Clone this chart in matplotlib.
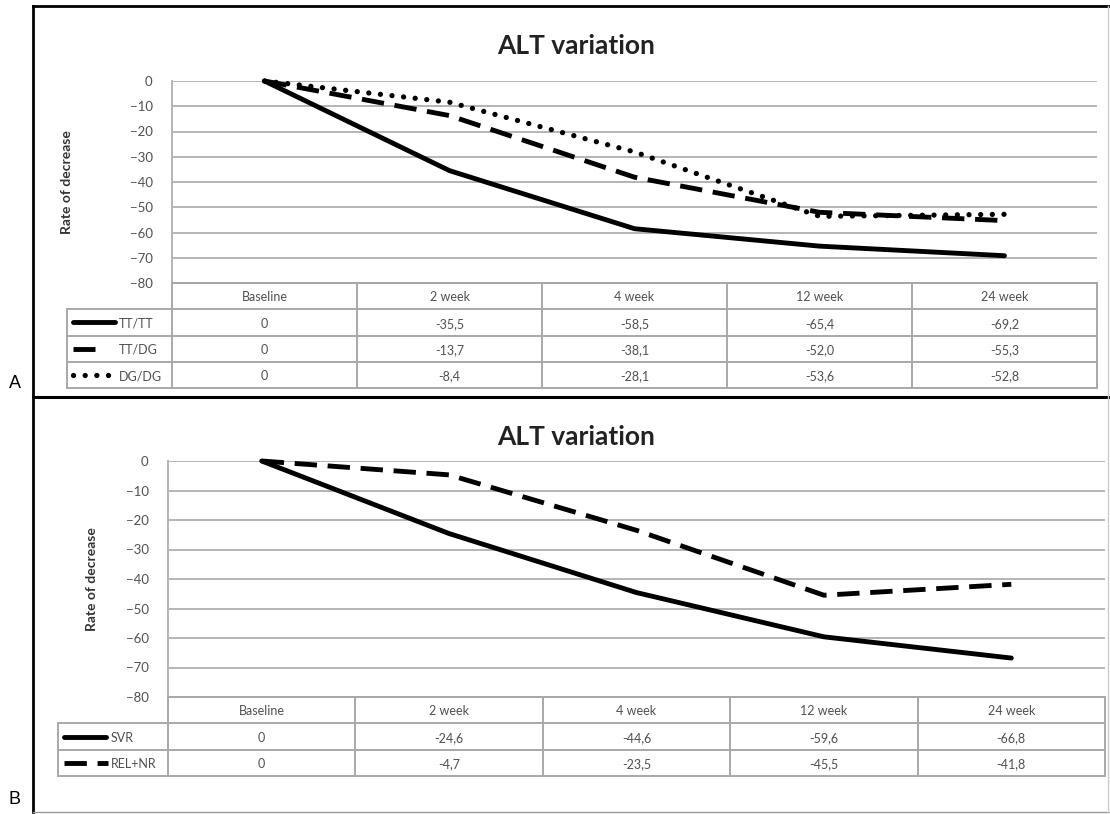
import numpy as np
import matplotlib
matplotlib.use('Agg')
import matplotlib.pyplot as plt
from matplotlib.lines import Line2D

plt.rcParams['font.family'] = ['Lato', 'DejaVu Sans']

W, H = 1110, 814

# data
weeks = ['Baseline', '2 week', '4 week', '12 week', '24 week']
yticks = [0, -10, -20, -30, -40, -50, -60, -70, -80]

names_a = ['TT/TT', 'TT/DG', 'DG/DG']
tt_tt = [0, -35.5, -58.5, -65.4, -69.2]
tt_dg = [0, -13.7, -38.1, -52.0, -55.3]
dg_dg = [0, -8.4, -28.1, -53.6, -52.8]

names_b = ['SVR', 'REL+NR']
svr = [0, -24.6, -44.6, -59.6, -66.8]
rel_nr = [0, -4.7, -23.5, -45.5, -41.8]

solid = dict(ls='-', lw=3.5, solid_capstyle='round')
dashed = dict(ls=(0, (4.6, 2.2)), lw=3.5, dash_capstyle='butt')
dotted = dict(ls=(0, (0.01, 2.2)), lw=3.8, dash_capstyle='round')

grid_c = '#b4b4b4'
tab_c = '#a8a8a8'
txt_c = '#505050'


def box(x0, y0, x1, y1):
    return [x0 / W, 1 - y1 / H, (x1 - x0) / W, (y1 - y0) / H]


def fmt(v):
    return '0' if v == 0 else ('%.1f' % v).replace('.', ',')


fig = plt.figure(figsize=(W / 100, H / 100), dpi=100)


def panel(plot_px, tab_left, tab_bottom, title_y, label_x, series, names, styles, keylen, key_text_x):
    x0, y0, x1, y1 = plot_px
    ax = fig.add_axes(box(x0, y0, x1, y1))
    xs = np.arange(len(weeks))
    for vals, st in zip(series, styles):
        ax.plot(xs, vals, color='black', clip_on=False, zorder=3, **st)
    ax.set_xlim(-0.5, len(weeks) - 0.5)
    ax.set_ylim(-80, 0)
    ax.set_yticks(yticks)
    ax.set_xticks([])
    ax.yaxis.grid(True, color=grid_c, lw=1.4)
    ax.set_axisbelow(True)
    for s in ['top', 'right']:
        ax.spines[s].set_visible(False)
    for s in ['left', 'bottom']:
        ax.spines[s].set_color(grid_c)
        ax.spines[s].set_linewidth(1.4)
    ax.tick_params(axis='y', length=0, pad=14, labelsize=9.5, labelcolor=txt_c)

    fig.text(576 / W, 1 - title_y / H, 'ALT variation', ha='center', va='center',
             fontsize=19, fontweight='bold', color='#222222')
    fig.text(label_x / W, 1 - (y0 + y1) / 2 / H, 'Rate of decrease', rotation=90,
             ha='center', va='center', fontsize=10, fontweight='bold', color='#333333')

    # data table under the axis
    col_w = (x1 - x0) / len(weeks)
    leg_w = (x0 - tab_left) / col_w
    nrows = len(series)
    tb = fig.add_axes(box(tab_left, y1, x1, tab_bottom))
    tb.set_xlim(-0.5 - leg_w, len(weeks) - 0.5)
    tb.set_ylim(nrows + 1, 0)
    tb.axis('off')
    lk = dict(color=tab_c, lw=1.4, clip_on=False)
    tb.plot([-0.5, len(weeks) - 0.5], [0, 0], **lk)
    for r in range(1, nrows + 2):
        tb.plot([-0.5 - leg_w, len(weeks) - 0.5], [r, r], **lk)
    for i in range(len(weeks) + 1):
        tb.plot([-0.5 + i, -0.5 + i], [0, nrows + 1], **lk)
    tb.plot([-0.5 - leg_w, -0.5 - leg_w], [1, nrows + 1], **lk)
    for i, w in enumerate(weeks):
        tb.text(i, 0.55, w, ha='center', va='center', fontsize=9, color=txt_c)
    for r, (vals, nm, st, kl) in enumerate(zip(series, names, styles, keylen), start=1):
        for i, v in enumerate(vals):
            tb.text(i, r + 0.55, fmt(v), ha='center', va='center', fontsize=9, color=txt_c)
        kx0 = -0.5 - leg_w + 6 / col_w
        tb.add_line(Line2D([kx0, kx0 + kl / col_w], [r + 0.5, r + 0.5], color='black', **st))
        tb.text(-0.5 - leg_w + (key_text_x - tab_left) / col_w, r + 0.55, nm,
                ha='left', va='center', fontsize=9, color=txt_c)


panel((172, 81, 1097, 283), 67, 388, 46, 67,
      [tt_tt, tt_dg, dg_dg], names_a, [solid, dashed, dotted], [42, 22, 42], 119)
panel((168, 461, 1105, 697), 58, 776, 437, 92,
      [svr, rel_nr], names_b, [solid, dashed], [42, 44], 111)

# panel frames
fig.add_artist(Line2D([33 / W, 33 / W], [1 - 6 / H, 1 - 812 / H], color='black', lw=2))
fig.add_artist(Line2D([33 / W, 1], [1 - 6 / H, 1 - 6 / H], color='black', lw=2))
fig.add_artist(Line2D([33 / W, 1], [1 - 397 / H, 1 - 397 / H], color='black', lw=2.2))
fig.add_artist(Line2D([33 / W, 1], [1 - 812 / H, 1 - 812 / H], color='#999999', lw=1))
fig.add_artist(Line2D([1108 / W, 1108 / W], [1 - 6 / H, 1 - 812 / H], color='#cccccc', lw=1))

fig.text(15 / W, 1 - 383 / H, 'A', ha='center', va='center', fontsize=13,
         family='Liberation Sans')
fig.text(15 / W, 1 - 800 / H, 'B', ha='center', va='center', fontsize=13,
         family='Liberation Sans')

plt.savefig('out.png', dpi=100)
